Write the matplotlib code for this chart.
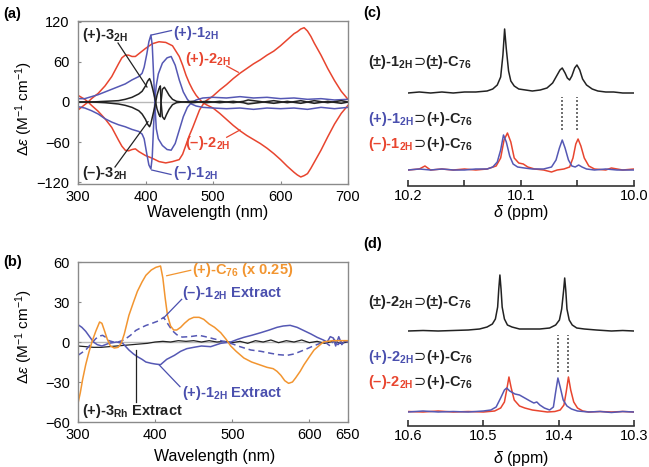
import matplotlib
matplotlib.use('Agg')
import matplotlib.pyplot as plt

# ---------------- panel (a): CD of the free hosts ----------------
wl_2 = [300, 305, 310, 315, 320, 330, 340, 350, 360, 365, 370, 375, 380, 385, 390,
        400, 410, 420, 430, 440, 450, 455, 460, 465, 470, 475, 480, 485, 490, 500,
        510, 520, 530, 540, 550, 560, 570, 580, 590, 600, 610, 620, 625, 630, 635,
        640, 645, 650, 660, 670, 680, 690, 700]
cd_2p = [10, 7, 4, 0, -5, -14, -25, -38, -57, -66, -72, -73, -71, -70, -74,
         -80, -84, -89, -91, -89, -86, -78, -64, -50, -38, -25, -12, -4, 2, 9,
         18, 26, 35, 43, 50, 57, 63, 70, 76, 84, 93, 102, 105, 109, 111,
         106, 98, 88, 70, 50, 32, 16, 4]
cd_2m = [-12, -8, -4, 0, 5, 13, 24, 38, 57, 66, 70, 70, 68, 68, 72,
         80, 87, 90, 89, 84, 68, 55, 40, 28, 18, 10, 4, -1, -4, -9,
         -17, -26, -35, -43, -50, -56, -62, -69, -77, -86, -96, -105, -109, -112, -110,
         -107, -99, -90, -72, -52, -33, -17, -5]

wl_1 = [300, 310, 320, 330, 340, 350, 360, 370, 380, 390, 395, 398, 402, 405, 408,
        410, 412, 414, 416, 419, 425, 432, 438, 444, 450, 456, 462, 468, 475, 485,
        500, 520, 540, 560, 580, 600, 620, 640, 660, 680, 700]
cd_1p = [5, 5, 8, 11, 15, 19, 23, 27, 33, 38, 43, 52, 72, 90, 100,
         85, 40, -5, -40, -55, -65, -71, -72, -62, -42, -22, -8, -1, 3, 6,
         7, 6, 8, 6, 7, 5, 6, 4, 5, 3, 4]
cd_1m = [-7, -9, -13, -18, -25, -30, -34, -37, -41, -44, -48, -55, -78, -94, -100,
         -82, -35, 5, 25, 42, 58, 66, 68, 55, 33, 15, 4, -3, -6, -8,
         -9, -10, -9, -11, -9, -10, -9, -11, -8, -10, -8]

wl_3 = [300, 320, 340, 360, 370, 380, 390, 395, 400, 403, 406, 408, 411, 414, 417,
        420, 422, 423, 425, 428, 431, 435, 440, 446, 455, 470, 490, 510, 530, 545,
        552, 560, 575, 590, 610, 630, 650, 670, 690, 700]
cd_3p = [0, 0, 1, 2, 4, 7, 12, 16, 24, 31, 35, 30, 18, 5, -10,
         -19, -22, 0, 19, 22, 17, 10, 4, 1, 0, 1, -1, 1, -1, 1,
         3, 2, 0, 2, -1, 2, -2, 1, -2, 0]
cd_3m = [0, 0, -1, -3, -5, -8, -13, -18, -26, -33, -37, -32, -19, -6, 10,
         20, 24, 0, -22, -26, -19, -11, -4, -1, 0, -1, 1, -1, 1, -1,
         -3, -2, 0, -2, 1, -2, 2, -1, 2, 0]

# ---------------- panel (b): CD of the extracts ----------------
wl_c76 = [300, 303, 306, 310, 314, 318, 323, 328, 331, 334, 338, 342, 347, 352, 356,
          360, 366, 372, 377, 383, 388, 395, 401, 407, 410, 413, 416, 420, 424, 428,
          433, 438, 444, 450, 457, 463, 470, 477, 485, 492, 498, 505, 515, 525, 535,
          545, 553, 558, 563, 568, 573, 578, 582, 588, 593, 600, 606, 612, 618, 630,
          640, 650]
cd_c76 = [-46, -38, -28, -17, -8, 0, 8, 15, 14, 9, 2, -3, -4.5, -4, -1,
          6, 20, 30, 38, 45, 50, 54, 56, 57, 48, 33, 20, 12, 9, 9,
          11, 14, 17, 18.5, 18.5, 17, 13.5, 11, 7, 2, -3, -7, -12, -15, -17,
          -19, -20, -22, -25, -29, -31, -30, -27, -22, -17, -11, -6, -3, 0, 1,
          1, 1]

wl_e1p = [300, 305, 310, 315, 320, 325, 331, 340, 350, 358, 366, 372, 377, 383, 388,
          395, 400, 407, 415, 425, 433, 441, 450, 460, 472, 485, 498, 507, 515, 525,
          537, 548, 558, 566, 575, 584, 593, 602, 610, 618, 623, 627, 631, 634, 638,
          642, 646, 650]
cd_e1p = [13, 11, 8, 4, 0, -2, -3, -1, 0, -1, -6, -9, -11, -13, -15,
          -16, -16.5, -17, -13, -10, -7, -5, -4, -3, -3.5, -1, 0, 2, 3.5, 5,
          7, 9, 11, 12, 12.5, 11, 8.5, 6, 3.5, 1.5, 0, 4, 3, -3, 4,
          -2, 1, 0]

wl_e1m = [300, 305, 310, 316, 323, 328, 332, 336, 340, 346, 352, 357, 362, 368, 375,
          381, 388, 396, 405, 411, 416, 422, 428, 435, 445, 457, 465, 472, 485, 498,
          510, 524, 537, 550, 560, 571, 580, 593, 603, 614, 620, 627, 632, 637, 642,
          650]
cd_e1m = [-10, -8, -6, -2, 2.5, 4.5, 5, 3.5, 1, 0, 0, 1, 2.5, 5, 8.7,
          10.5, 12.4, 14, 16, 18.5, 14, 8.7, 5.5, 3.7, 4, 5, 4, 3, 1, -1,
          -3.5, -6, -7, -8.5, -9.5, -10, -9, -6, -3.5, -1, 0, -3, 2, -2, 1,
          0]

wl_e3 = [300, 310, 320, 330, 340, 350, 360, 370, 380, 390, 400, 410, 420, 430, 440,
         450, 460, 470, 480, 490, 500, 510, 520, 530, 540, 550, 560, 570, 580, 590,
         600, 610, 620, 630, 640, 650]
cd_e3 = [-3, -3.5, -4, -4, -3.5, -3, -2.5, -2, -1.5, -1, 0, 0.5, 0, 1, 0.5,
         1, 0, 1, 0, 0.5, -0.5, 0.5, -1, 1, 0, 1.5, -0.5, 1, 0, 1.5,
         -0.5, 0.5, -1, 0.5, -1, 0]

# ---------------- panel (c): 1H NMR, host 1 ----------------
ppm_c_rac = [10.20, 10.19, 10.18, 10.17, 10.16, 10.15, 10.14, 10.13, 10.125, 10.121,
             10.118, 10.116, 10.1145, 10.113, 10.111, 10.109, 10.106, 10.102, 10.096, 10.09,
             10.083, 10.077, 10.072, 10.068, 10.0655, 10.0635, 10.061, 10.059, 10.057, 10.055,
             10.0525, 10.0505, 10.048, 10.0455, 10.042, 10.037, 10.032, 10.025, 10.018, 10.01,
             10.0]
int_c_rac = [0, 1, 0, 1, 0, 1, 1, 2, 4, 8,
             16, 38, 64, 44, 22, 12, 7, 4, 3, 2,
             3, 5, 10, 18, 23, 25, 20, 15, 13, 17,
             25, 28, 23, 14, 8, 4, 2, 1, 1, 0,
             0]
ppm_c_p = [10.20, 10.19, 10.18, 10.17, 10.16, 10.15, 10.14, 10.13, 10.125, 10.121,
           10.118, 10.1155, 10.113, 10.11, 10.107, 10.103, 10.097, 10.09, 10.08, 10.073,
           10.069, 10.066, 10.0635, 10.061, 10.058, 10.055, 10.052, 10.049, 10.046, 10.042,
           10.035, 10.025, 10.015, 10.0]
int_c_p = [0, 1, 0, 1, 0, 0, 1, 1, 3, 8,
           20, 35, 28, 14, 6, 3, 2, 1, 1, 3,
           10, 22, 30, 22, 10, 4, 3, 5, 3, 1,
           0, 1, 0, 0]
ppm_c_m = [10.20, 10.19, 10.185, 10.18, 10.17, 10.16, 10.15, 10.14, 10.13, 10.122,
           10.118, 10.115, 10.112, 10.109, 10.106, 10.102, 10.098, 10.094, 10.088, 10.08,
           10.073, 10.068, 10.062, 10.057, 10.054, 10.0515, 10.0495, 10.047, 10.044, 10.04,
           10.035, 10.025, 10.02, 10.01, 10.0]
int_c_m = [0, 1, 4, 0, 1, 0, 1, 0, 1, 4,
           12, 30, 37, 28, 12, 7, 6, 3, 1, 0,
           -2, 0, 1, 3, 12, 26, 31, 24, 12, 4,
           1, 0, 2, 0, 1]
c_guides = [10.0635, 10.0505]

# ---------------- panel (d): 1H NMR, host 2 ----------------
ppm_d_rac = [10.60, 10.58, 10.56, 10.54, 10.52, 10.505, 10.495, 10.488, 10.484, 10.481,
             10.4795, 10.478, 10.4765, 10.475, 10.472, 10.468, 10.462, 10.452, 10.44, 10.425,
             10.412, 10.404, 10.399, 10.396, 10.3935, 10.392, 10.3905, 10.389, 10.386, 10.382,
             10.376, 10.366, 10.35, 10.33, 10.315, 10.30]
int_d_rac = [0, 0.5, 0, 0.5, 1, 2, 4, 7, 12, 24,
             42, 56, 42, 24, 12, 6, 4, 2, 2, 2,
             3, 6, 11, 22, 40, 53, 40, 22, 11, 6,
             3, 2, 1, 0, 0.5, 0]
ppm_d_p = [10.60, 10.58, 10.56, 10.54, 10.52, 10.50, 10.49, 10.483, 10.477, 10.472,
           10.469, 10.465, 10.458, 10.452, 10.445, 10.438, 10.433, 10.429, 10.425, 10.419,
           10.412, 10.407, 10.404, 10.401, 10.398, 10.394, 10.389, 10.383, 10.375, 10.36,
           10.345, 10.33, 10.315, 10.30]
int_d_p = [0, 1, 0, 0.5, 0, 1, 2, 5, 14, 22,
           24, 21, 18, 17, 14, 11, 9, 10, 7, 4,
           2, 5, 20, 34, 25, 12, 6, 3, 1, 0,
           0.5, -0.5, 0.5, 0]
ppm_d_m = [10.60, 10.58, 10.56, 10.54, 10.52, 10.50, 10.485, 10.477, 10.472, 10.469,
           10.466, 10.463, 10.459, 10.452, 10.445, 10.435, 10.425, 10.415, 10.405, 10.398,
           10.393, 10.39, 10.387, 10.384, 10.38, 10.375, 10.368, 10.36, 10.345, 10.33,
           10.315, 10.30]
int_d_m = [0.5, 0, 1, 0, 0.5, 0, 1, 4, 10, 22,
           35, 24, 12, 6, 4, 2, 1, 0, 0.5, 2,
           7, 20, 35, 22, 10, 4, 1, 0, 0.5, 0,
           0.5, 0]
d_guides = [10.401, 10.388]

# ---------------- style ----------------
plt.rcParams['font.family'] = ['Liberation Sans', 'DejaVu Sans']
plt.rcParams['mathtext.fontset'] = 'custom'
plt.rcParams['mathtext.rm'] = 'Liberation Sans'
plt.rcParams['mathtext.it'] = 'Liberation Sans:italic'
plt.rcParams['mathtext.bf'] = 'Liberation Sans:bold'

RED = '#e8452f'
BLUE = '#5558b4'
BLUE_TXT = '#4a4fae'
ORANGE = '#f29530'
BLACK = '#222222'
FRAME = '#8a8a8a'
LW = 1.1
LABEL_FS = 10.5
TICK_FS = 10.5

W, H = 649, 467
fig = plt.figure(figsize=(W / 100, H / 100), dpi=100)


def px_axes(x0, y0, x1, y1):
    return fig.add_axes([x0 / W, 1 - y1 / H, (x1 - x0) / W, (y1 - y0) / H])


def px_text(x, y, s, **kw):
    return fig.text(x / W, 1 - y / H, s, **kw)


def style_cd(ax, xlim, ylim, xticks, yticks):
    ax.set_xlim(xlim)
    ax.set_ylim(ylim)
    ax.set_xticks(xticks)
    ax.set_yticks(yticks)
    for s in ax.spines.values():
        s.set_color(FRAME)
        s.set_linewidth(1.0)
    ax.tick_params(axis='both', direction='in', length=2.5, width=0.8,
                   color=FRAME, labelsize=TICK_FS)
    ax.tick_params(axis='x', pad=4)
    ax.tick_params(axis='y', pad=6)
    ax.axhline(0, color='#b8b8b8', lw=1.0, zorder=0)


def add_labels(ax, items):
    for text, color, xy, p0, p1 in items:
        ax.text(xy[0], xy[1], text, color=color, fontsize=LABEL_FS,
                fontweight='bold', va='baseline', ha='left')
        ax.plot([p0[0], p1[0]], [p0[1], p1[1]], color=color, lw=0.9)


sub = lambda s: r'$_{\mathbf{' + s + '}}$'

# ---------- (a) ----------
ax_a = px_axes(78, 21, 348, 184)
style_cd(ax_a, (300, 700), (-122.5, 121), [300, 400, 500, 600, 700],
         [-120, -60, 0, 60, 120])
ax_a.plot(wl_2, cd_2p, color=RED, lw=LW)
ax_a.plot(wl_2, cd_2m, color=RED, lw=LW)
ax_a.plot(wl_1, cd_1p, color=BLUE, lw=LW)
ax_a.plot(wl_1, cd_1m, color=BLUE, lw=LW)
ax_a.plot(wl_3, cd_3p, color=BLACK, lw=LW)
ax_a.plot(wl_3, cd_3m, color=BLACK, lw=LW)
add_labels(ax_a, [
    ('(+)-3' + sub('2H'), BLACK, (305.9, 93.4), (359.3, 88.1), (402.2, 22.4)),
    ('(+)-1' + sub('2H'), BLUE_TXT, (441.2, 96.6), (408.9, 100.1), (438.5, 106.8)),
    ('(+)-2' + sub('2H'), RED, (458.5, 57.8), (520.3, 53.8), (537.5, 44.4)),
    ('(\u2013)-2' + sub('2H'), RED, (458.5, -67.7), (520.3, -52.7), (540, -41.8)),
    ('(\u2013)-3' + sub('2H'), BLACK, (305.9, -112.5), (354.8, -97.1), (403.7, -29.4)),
    ('(\u2013)-1' + sub('2H'), BLUE_TXT, (441.2, -112.5), (409.2, -101.6), (437.8, -108.3)),
])

# ---------- (b) ----------
ax_b = px_axes(78, 262, 348, 422)
style_cd(ax_b, (300, 650), (-60, 60), [300, 400, 500, 600, 650],
         [-60, -30, 0, 30, 60])
ax_b.plot(wl_e3, cd_e3, color=BLACK, lw=0.9)
ax_b.plot(wl_e1m, cd_e1m, color=BLUE, lw=LW, ls=(0, (4, 2.5)))
ax_b.plot(wl_e1p, cd_e1p, color=BLUE, lw=LW)
ax_b.plot(wl_c76, cd_c76, color=ORANGE, lw=LW)
add_labels(ax_b, [
    ('(+)-C' + sub('76') + ' (x 0.25)', ORANGE, (447.4, 50.8), (415.0, 49.7), (446.1, 53.8)),
    ('(\u2013)-1' + sub('2H') + ' Extract', BLUE_TXT, (434.4, 34.0), (410.6, 17.8), (434.4, 32.0)),
    ('(+)-1' + sub('2H') + ' Extract', BLUE_TXT, (434.4, -41.0), (405.4, -17.3), (432.2, -33.5)),
    ('(+)-3' + sub('Rh') + ' Extract', BLACK, (304.8, -54.8), (375.2, -6), (375.2, -45)),
])

ylab = r'$\Delta\varepsilon$ (M$^{-1}$ cm$^{-1}$)'
px_text(24, 108, ylab, rotation=90, ha='center', va='center', fontsize=11)
px_text(24, 336, ylab, rotation=90, ha='center', va='center', fontsize=11)
px_text(208, 213, 'Wavelength (nm)', ha='center', va='center', fontsize=11.5)
px_text(215, 457, 'Wavelength (nm)', ha='center', va='center', fontsize=11.5)


# ---------- NMR panels ----------
def style_nmr(ax, xlim, ylim, ticks, ticklabels):
    ax.set_xlim(xlim)
    ax.set_ylim(ylim)
    for side in ('left', 'right', 'top'):
        ax.spines[side].set_visible(False)
    ax.spines['bottom'].set_linewidth(1.2)
    ax.spines['bottom'].set_color('#333333')
    ax.set_yticks([])
    ax.set_xticks(ticks)
    ax.set_xticklabels(ticklabels)
    ax.tick_params(axis='x', direction='in', length=4.5, width=1.2,
                   color='#333333', labelsize=TICK_FS, pad=2)
    ax.patch.set_alpha(0)


def offset(vals, base):
    return [v + base for v in vals]


ax_c = px_axes(408, 20, 634, 186)
style_nmr(ax_c, (10.2, 10.0), (0, 166), [10.2, 10.15, 10.1, 10.05, 10.0],
          ['10.2', '', '10.1', '', '10.0'])
ax_c.plot(ppm_c_rac, offset(int_c_rac, 93), color=BLACK, lw=LW)
ax_c.plot(ppm_c_m, offset(int_c_m, 16), color=RED, lw=LW)
ax_c.plot(ppm_c_p, offset(int_c_p, 16), color=BLUE, lw=LW)
ax_c.vlines(c_guides, 56, 89, colors='#555555', lw=1.2, linestyles=(0, (1.2, 1.2)))

ax_d = px_axes(408, 250, 634, 426)
style_nmr(ax_d, (10.6, 10.3), (0, 176), [10.6, 10.5, 10.4, 10.3],
          ['10.6', '10.5', '10.4', '10.3'])
ax_d.plot(ppm_d_rac, offset(int_d_rac, 95), color=BLACK, lw=LW)
ax_d.plot(ppm_d_m, offset(int_d_m, 14), color=RED, lw=LW)
ax_d.plot(ppm_d_p, offset(int_d_p, 14), color=BLUE, lw=LW)
ax_d.vlines(d_guides, 54, 91, colors='#555555', lw=1.2, linestyles=(0, (1.2, 1.2)))

px_text(521, 212, r'$\delta$ (ppm)', ha='center', va='center', fontsize=11.5)
px_text(521, 458, r'$\delta$ (ppm)', ha='center', va='center', fontsize=11.5)

# multi-colour host-guest labels: host part coloured, "⊃guest" in black
renderer = fig.canvas.get_renderer()


def host_label(x, y, host, host_color, guest):
    pieces = [(host, host_color, dict(fontweight='bold')),
              ('\u2283', BLACK, dict(family='DejaVu Sans')),
              (guest, BLACK, dict(fontweight='bold'))]
    cur = x
    for s, c, kw in pieces:
        t = px_text(cur, y, s, color=c, fontsize=LABEL_FS, va='baseline',
                    ha='left', **kw)
        bb = t.get_window_extent(renderer)
        cur = bb.x1


host_label(368, 66, '(\u00b1)-1' + sub('2H'), BLACK, '(\u00b1)-C' + sub('76'))
host_label(368, 123, '(+)-1' + sub('2H'), BLUE_TXT, '(+)-C' + sub('76'))
host_label(368, 148, '(\u2013)-1' + sub('2H'), RED, '(+)-C' + sub('76'))
host_label(368, 306, '(\u00b1)-2' + sub('2H'), BLACK, '(\u00b1)-C' + sub('76'))
host_label(368, 361, '(+)-2' + sub('2H'), BLUE_TXT, '(+)-C' + sub('76'))
host_label(368, 386, '(\u2013)-2' + sub('2H'), RED, '(+)-C' + sub('76'))

# panel letters
for x, y, s in [(3, 18, '(a)'), (3, 266, '(b)'), (363, 17, '(c)'), (363, 248, '(d)')]:
    px_text(x, y, s, fontsize=10.5, fontweight='bold', va='baseline', ha='left')

fig.savefig('out.png', dpi=100)
